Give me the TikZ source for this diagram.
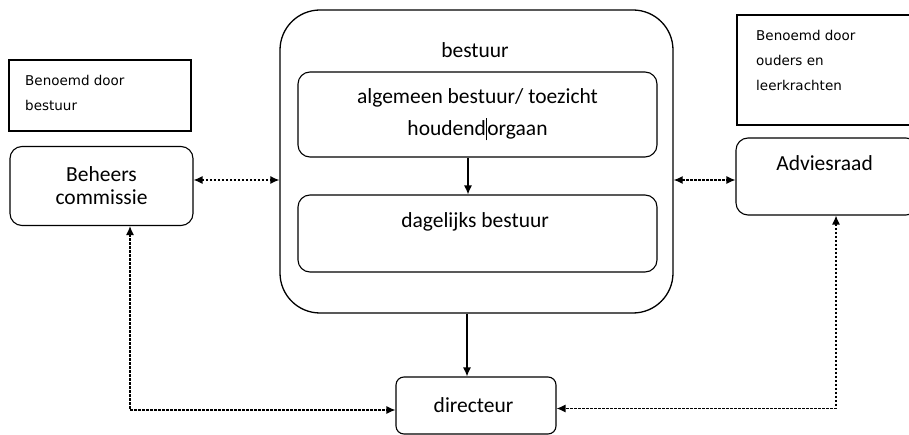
\documentclass[tikz,border=0pt]{standalone}
\usepackage{fontspec}
\setmainfont{Carlito}
\newfontfamily\notefont{DejaVu Sans}
\usetikzlibrary{arrows.meta}

\begin{document}
\begin{tikzpicture}[x=1pt, y=-1pt,
    >={Latex[length=9pt, width=8pt]},
    box/.style={
        rectangle,
        rounded corners=12pt,
        draw,
        line width=1.1pt,
        align=center,
        font=\fontsize{21.5}{23}\selectfont
    },
    note/.style={rectangle, draw, line width=1.3pt},
    notetext/.style={
        align=left,
        inner sep=0pt,
        anchor=west,
        font=\notefont\fontsize{13.5}{25}\selectfont
    },
    link/.style={<->, line width=1.2pt, dash pattern=on 2.5pt off 1.5pt},
    flow/.style={->, line width=1.3pt}
]
    \path[use as bounding box, clip] (0,0) rectangle (909,435);

    % notes above the side boxes
    \node (note_bestuur) [note, minimum width=182pt, minimum height=71pt, shift={(100,95.5)}] {};
    \node (note_bestuur_text) [notetext, shift={(25,93)}]
    {
        Benoemd door\\bestuur
    };
    \node (note_advies) [note, minimum width=182pt, minimum height=110pt, shift={(828,70)}] {};
    \node (note_advies_text) [notetext, shift={(756,60.5)}]
    {
        Benoemd door\\ouders en\\leerkrachten
    };

    % bestuur with its two parts
    \node (bestuur) [box, rounded corners=40pt, line width=1.3pt, minimum width=393pt, minimum height=303pt, shift={(476.5,161.5)}] {};
    \node (bestuur_label) [font=\fontsize{21.5}{23}\selectfont, shift={(475,50)}]
    {
        bestuur
    };
    \node (algemeen_bestuur) [box, font=\fontsize{21.5}{32}\selectfont, minimum width=359pt, minimum height=85pt, shift={(477.5,114.5)}]
    {
        algemeen bestuur/ toezicht\\houdend\rule[-0.22em]{1.4pt}{1.05em}orgaan
    };
    \node (dagelijks_bestuur) [box, text height=14pt, text depth=26pt, minimum width=359pt, minimum height=77pt, shift={(477.5,233.5)}]
    {
        dagelijks bestuur
    };

    % side and bottom boxes
    \node (beheers_commissie) [box, minimum width=183pt, minimum height=79pt, shift={(101.5,186)}]
    {
        Beheers\\commissie
    };
    \node (adviesraad) [box, text height=14pt, text depth=25pt, minimum width=182pt, minimum height=77pt, shift={(827,176.5)}]
    {
        Adviesraad
    };
    \node (directeur) [box, rounded corners=8pt, minimum width=160pt, minimum height=57pt, shift={(476,405.5)}]
    {
        directeur
    };

    \draw[flow] ([xshift=-9.5pt]algemeen_bestuur.south) to ([xshift=-9.5pt]dagelijks_bestuur.north);
    \draw[flow] ([xshift=-9.5pt]bestuur.south) to ([xshift=-9pt]directeur.north);
    \draw[link] ([yshift=6pt]beheers_commissie.east) to ([yshift=6pt]beheers_commissie.east -| bestuur.west);
    \draw[link] ([yshift=-3.5pt]adviesraad.west -| bestuur.east) to ([yshift=-3.5pt]adviesraad.west);
    \draw[link] ([xshift=28.5pt]beheers_commissie.south) |- ([yshift=-4.5pt]directeur.west);
    \draw[link] ([xshift=9pt]adviesraad.south) |- ([yshift=-3pt]directeur.east);
\end{tikzpicture}
\end{document}
